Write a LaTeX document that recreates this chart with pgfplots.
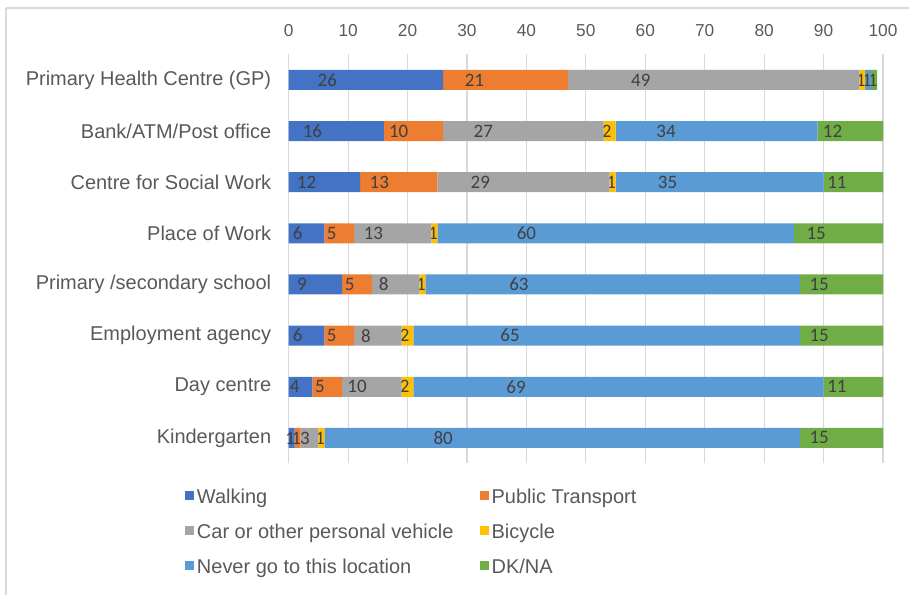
\documentclass[border=0pt]{standalone}
\usepackage{pgfplots}
\pgfplotsset{compat=1.18}
\usepackage{pgfplotstable}
\usepackage{fontspec}
\setmainfont{Liberation Sans}
\newfontfamily\labelfont{Carlito}
\definecolor{cWalk}{HTML}{4472C4}
\definecolor{cPT}{HTML}{ED7D31}
\definecolor{cCar}{HTML}{A5A5A5}
\definecolor{cBike}{HTML}{FFC000}
\definecolor{cNever}{HTML}{5B9BD5}
\definecolor{cDK}{HTML}{70AD47}
\definecolor{gridc}{HTML}{D9D9D9}
\definecolor{txt}{HTML}{595959}
\definecolor{lbl}{HTML}{404040}

% idx 7 = top row, 0 = bottom row; DKw = drawn width of the DK/NA bar, DK = its label
\pgfplotstableread{
idx Walk PT Car Bike Never DKw DK
7 26 21 49 1 1 1 1
6 16 10 27 2 34 11 12
5 12 13 29 1 35 10 11
4 6 5 13 1 60 15 15
3 9 5 8 1 63 14 15
2 6 5 8 2 65 14 15
1 4 5 10 2 69 10 11
0 1 1 3 1 80 14 15
}\data

\newcommand{\axisunit}{5.95}
\pgfplotsset{
  calc half/.code={%
    \pgfkeys{/pgf/fpu=true,/pgf/fpu/output format=fixed}%
    \pgfmathsetmacro\halfshift{\pgfplotspointmeta*\axisunit/4}%
    \global\let\halfshift\halfshift
    \pgfkeys{/pgf/fpu=false}%
  },
}

\begin{document}
\begin{tikzpicture}[x=1pt,y=1pt]
\path (0,0) rectangle (910,-596);
\draw[gridc, line width=2pt] (6,-8) -- (910,-8);
\draw[gridc, line width=2pt] (6,-8) -- (6,-596);
\begin{axis}[
  at={(289pt,-54.4pt)}, anchor=north west,
  scale only axis, width=595pt, height=409.6pt,
  xbar stacked, bar width=20pt,
  xmin=0, xmax=100, ymin=-0.5, ymax=7.5,
  clip mode=individual,
  axis line style={draw=none},
  xtick={0,10,...,100},
  xticklabel pos=upper,
  xmajorgrids, grid style={gridc, line width=1.2pt},
  major tick length=0pt,
  xticklabel style={font=\fontsize{17.3}{19}\selectfont, text=txt, yshift=14pt},
  ytick={0,...,7},
  yticklabels={Kindergarten, Day centre, Employment agency, Primary /secondary school, Place of Work, Centre for Social Work, Bank/ATM/Post office, Primary Health Centre (GP)},
  yticklabel style={font=\fontsize{20}{22}\selectfont, text=txt, xshift=-14pt},
  /pgf/number format/assume math mode=true,
  point meta=explicit,
  nodes near coords={\pgfmathprintnumber{\pgfplotspointmeta}},
  every node near coord/.append style={/pgfplots/calc half, anchor=center, xshift=-\halfshift pt, font=\labelfont\fontsize{19}{20}\selectfont, text=lbl, inner sep=0pt},
  legend style={at={(axis description cs:-0.1748,-0.057)}, anchor=north west, draw=none, fill=none, inner sep=0pt, font=\fontsize{20}{22}\selectfont, text=txt,
     column sep=0pt, row sep=16.5pt},
  legend columns=2,
  legend cell align=left,
  legend image code/.code={\fill[#1] (0pt,-4pt) rectangle (9pt,5pt);},
  every axis legend/.append style={nodes={inner xsep=3pt, text depth=0pt}},
]
\addplot[fill=cWalk, draw=none] table[x=Walk, y=idx, meta=Walk]{\data};
\addplot[fill=cPT, draw=none] table[x=PT, y=idx, meta=PT]{\data};
\addplot[fill=cCar, draw=none] table[x=Car, y=idx, meta=Car]{\data};
\addplot[fill=cBike, draw=none] table[x=Bike, y=idx, meta=Bike]{\data};
\addplot[fill=cNever, draw=none] table[x=Never, y=idx, meta=Never]{\data};
\addplot[fill=cDK, draw=none] table[x=DKw, y=idx, meta=DK]{\data};
\addlegendentry{\makebox[280pt][l]{Walking}}
\addlegendentry{Public Transport}
\addlegendentry{Car or other personal vehicle}
\addlegendentry{Bicycle}
\addlegendentry{Never go to this location}
\addlegendentry{DK/NA}
\end{axis}
\end{tikzpicture}
\end{document}
